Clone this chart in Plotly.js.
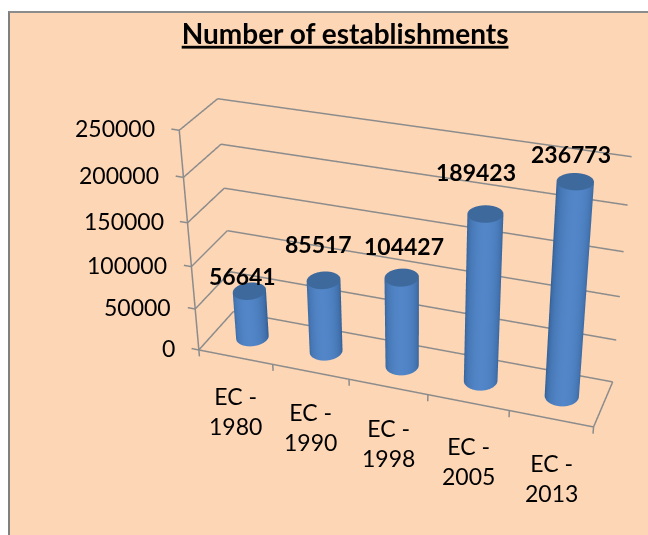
<!DOCTYPE html>
<html><head><meta charset="utf-8">
<script src="https://cdn.plot.ly/plotly-3.0.1.min.js"></script>
<style>html,body{margin:0;padding:0;background:#fff;overflow:hidden}
#w{position:absolute;left:0;top:0;width:648px;height:535px;overflow:hidden;background:#fff}
#b{position:absolute;left:8px;top:11px;width:640px;height:524px;background:#fdd6b5;border-left:2px solid #808080;border-top:2px solid #8c8c8c;box-sizing:border-box}
#c{position:absolute}</style></head>
<body><div id="w"><div id="b"></div><div id="c"></div></div>
<script>
const categories=["EC - 1980","EC - 1990","EC - 1998","EC - 2005","EC - 2013"];
const values=[56641,85517,104427,189423,236773];
const tickValues=[0,50000,100000,150000,200000,250000];
const valueLabelShiftX=[-7,-5,2,-9,-4];
const valueLabelShiftY=[15,36,32,42,28];
const categoryLabelShiftY=[-23,-24,-25,-28,-28];

const eye={x:2.0279,y:-5.6163,z:3.2415},center={x:0.1291,y:-0.208,z:-0.184},up={x:-0.0044,y:-0.0102,z:1};
const ax=2,ay=0.3968,az=1.1777,PAD=1.2;
const F=1453.419,PX=412.92,PY=319.5;
const GH=Math.ceil(2*F*Math.tan(Math.PI/8)),GW=2*Math.ceil(Math.max(PX,648-PX)+5);
const L=PX-GW/2,T=PY-GH/2;
const cd=document.getElementById('c');
cd.style.left=L+'px';cd.style.top=T+'px';cd.style.width=GW+'px';cd.style.height=GH+'px';

const xr=[-1,5],yr=[-.6,.6],zr=[-25000,275000];
const traces=[];
const Rx=0.2,Ry=0.22*(ax/5)/ay,N=48;
const mix=(a,b,t)=>'rgb('+[0,1,2].map(i=>Math.round(a[i]+(b[i]-a[i])*t)).join(',')+')';
const vl=Math.hypot(center.x-eye.x,center.y-eye.y),vx=(center.x-eye.x)/vl,vy=(center.y-eye.y)/vl;
const capColor='rgb(62,105,156)';
values.forEach((v,i)=>{
  const x=[],y=[],z=[],a=[],b=[],c=[],vc=[];
  for(let k=0;k<N;k++){const t=2*Math.PI*k/N,nx=Math.cos(t),ny=Math.sin(t);
    const s=Math.max(0,-(nx*vx+ny*vy));
    const col=mix([46,88,140],[82,134,200],Math.pow(s,0.8));
    x.push(i+Rx*nx,i+Rx*nx);y.push(Ry*ny,Ry*ny);z.push(0,v);vc.push(col,col);}
  for(let k=0;k<N;k++){const q=2*k,w=2*((k+1)%N);a.push(q,q+1);b.push(w,w);c.push(q+1,w+1);}
  const st=x.length;
  for(let k=0;k<N;k++){const t=2*Math.PI*k/N;x.push(i+Rx*Math.cos(t));y.push(Ry*Math.sin(t));z.push(v);vc.push(capColor);}
  x.push(i);y.push(0);z.push(v);vc.push(capColor);
  for(let k=0;k<N;k++){a.push(st+k);b.push(st+(k+1)%N);c.push(st+N);}
  traces.push({type:'mesh3d',x,y,z,i:a,j:b,k:c,vertexcolor:vc,lighting:{ambient:1,diffuse:0,specular:0,fresnel:0,roughness:1},hoverinfo:'skip'});
});
const lx=[],ly=[],lz=[];
const seg=(a,b)=>{lx.push(a[0],b[0],null);ly.push(a[1],b[1],null);lz.push(a[2],b[2],null);};
const x0=-.5,x1=4.5,y0=-.5,y1=.5,zt=tickValues[tickValues.length-1];
tickValues.forEach(t=>{seg([x0,y0,t],[x0,y1,t]);seg([x0,y1,t],[x1,y1,t]);seg([x0,y0,t],[x0-.1,y0,t]);});
seg([x0,y0,0],[x0,y0,zt]);seg([x0,y0,0],[x1,y0,0]);seg([x1,y0,0],[x1,y1,0]);
categories.forEach((_,i)=>seg([i+.5,y0,0],[i+.5,y0,-8000]));seg([x0,y0,0],[x0,y0,-8000]);
traces.push({type:'scatter3d',mode:'lines',x:lx,y:ly,z:lz,line:{color:'#8c8c8c',width:3},hoverinfo:'skip'});
const hide={visible:false};
const annotations=[];
values.forEach((v,i)=>annotations.push({x:i,y:0,z:v,text:'<b>'+v+'</b>',showarrow:false,xshift:valueLabelShiftX[i],yshift:valueLabelShiftY[i],font:{family:'Lato',size:23,color:'#000'}}));
tickValues.forEach(t=>annotations.push({x:x0,y:y0,z:t,text:String(t),showarrow:false,xanchor:'right',xshift:-22,yshift:2,font:{family:'Lato',size:23,color:'#000'}}));
categories.forEach((s,i)=>annotations.push({x:i,y:y0,z:0,text:s.replace('- ','-<br>'),showarrow:false,yanchor:'top',yshift:categoryLabelShiftY[i],font:{family:'Lato',size:23,color:'#000'}}));
Plotly.newPlot('c',traces,{
  width:GW,height:GH,paper_bgcolor:'rgba(0,0,0,0)',showlegend:false,margin:{l:0,r:0,t:0,b:0},
  title:{text:'<b><u>Number of establishments</u></b>',font:{family:'Lato',size:28,color:'#000'},x:(345-L)/GW,xanchor:'center',y:1-(34-T)/GH,yanchor:'middle'},
  scene:{domain:{x:[0,1],y:[0,1]},bgcolor:'rgba(0,0,0,0)',aspectmode:'manual',aspectratio:{x:ax*PAD,y:ay*PAD,z:az*PAD},
    camera:{eye,center,up},
    xaxis:{range:xr,...hide},yaxis:{range:yr,...hide},zaxis:{range:zr,...hide},annotations}
},{displayModeBar:false});
</script></body></html>
